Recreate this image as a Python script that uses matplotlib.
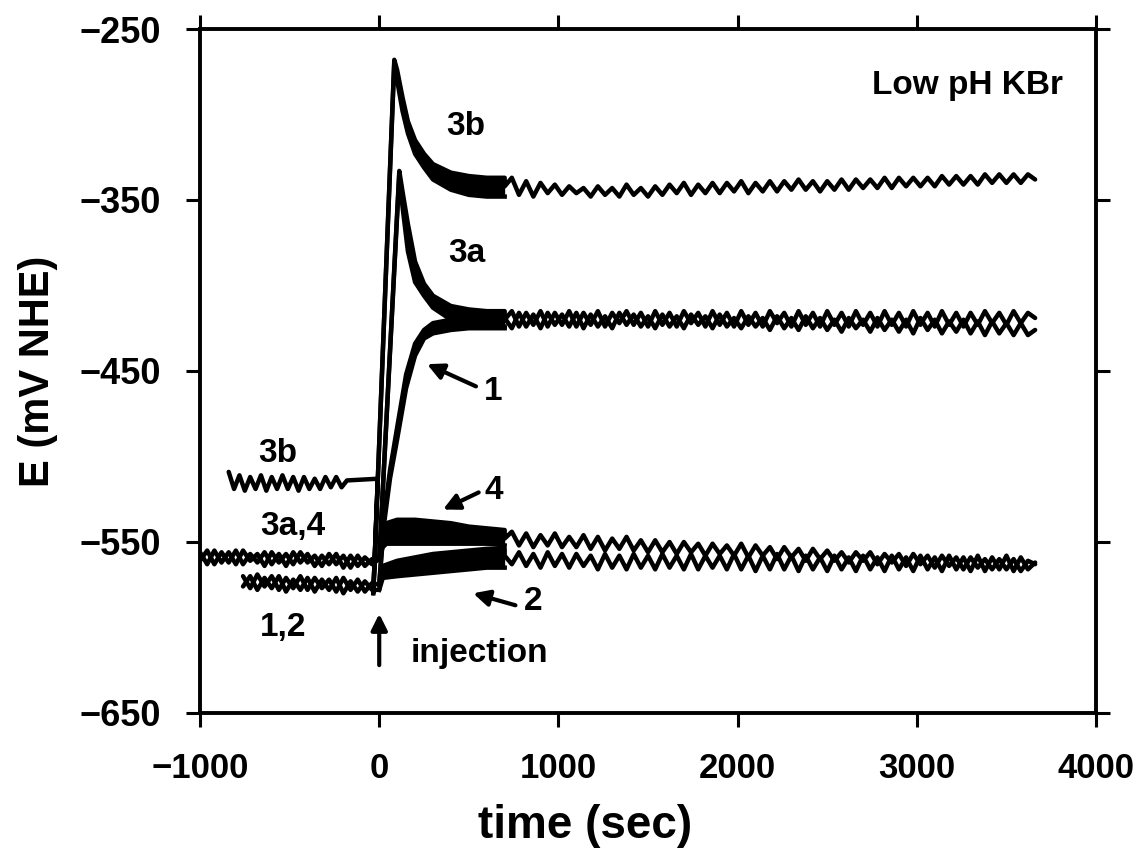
import numpy as np
import matplotlib
matplotlib.use("Agg")
import matplotlib.pyplot as plt

plt.rcParams['font.family'] = ['Liberation Sans', 'DejaVu Sans']
plt.rcParams['font.weight'] = 'bold'

# sample times (sec)
t_pre_a = np.arange(-1000, -39, 40)   # curves 3a, 4 before injection
t_pre_b = np.arange(-760, -39, 40)    # curves 1, 2 before injection
t_pre_3b = np.arange(-840, -179, 30)  # curve 3b before injection
t_post = np.arange(700, 3661, 40)     # all curves after the transient

# ---- before injection (mV NHE)
e3a_pre = [-556, -563, -555, -562, -556, -563, -555, -561, -557, -564,
           -556, -562, -557, -563, -556, -562, -558, -564, -557, -563,
           -558, -565, -558, -564, -560]
e4_pre = [-561, -555, -563, -556, -562, -555, -563, -557, -562, -556,
          -563, -557, -564, -556, -562, -557, -564, -558, -563, -557,
          -565, -558, -564, -559, -563]
e1_pre = [-570, -577, -569, -576, -570, -578, -571, -577, -570, -578,
          -571, -577, -572, -579, -571, -578, -572, -579, -574]
e2_pre = [-576, -570, -578, -571, -577, -570, -579, -572, -578, -571,
          -579, -572, -578, -571, -580, -573, -579, -573, -578]
e3b_pre = [-509, -519, -511, -520, -512, -519, -511, -520, -512, -519,
           -511, -519, -512, -520, -512, -519, -513, -519, -512, -518,
           -512, -518, -514]
t3b_link = [-8, -33]
e3b_link = [-513, -580]

# ---- transient after injection: upper / lower edge of the trace band
t3b_early = [-33, 84, 100, 130, 160, 200, 250, 300, 400, 500, 600, 700]
e3b_hi = [-580, -268, -274, -290, -304, -315, -323, -329, -334, -336, -337, -337]
e3b_lo = [-580, -270, -280, -298, -311, -323, -331, -338, -344, -347, -348, -348]

t3a_early = [0, 112, 130, 160, 200, 250, 300, 400, 500, 600, 700]
e3a_hi = [-560, -333, -345, -364, -386, -399, -406, -412, -414, -415, -415]
e3a_lo = [-560, -335, -354, -380, -398, -406, -413, -420, -423, -424, -424]

t1_early = [0, 10, 25, 60, 100, 150, 200, 250, 300, 400, 500, 600, 700]
e1_hi = [-575, -560, -537, -508, -483, -452, -434, -426, -422, -420, -418, -418, -418]
e1_lo = [-575, -562, -541, -513, -490, -460, -441, -431, -428, -426, -425, -425, -425]

t4_early = [0, 20, 40, 100, 200, 300, 400, 500, 600, 700]
e4_hi = [-560, -548, -539, -537, -537, -538, -539, -541, -542, -543]
e4_lo = [-560, -553, -551, -551, -551, -551, -551, -551, -551, -552]

t2_early = [0, 20, 100, 200, 300, 400, 500, 600, 700]
e2_hi = [-578, -564, -561, -559, -557, -556, -555, -554, -554]
e2_lo = [-578, -571, -570, -569, -568, -567, -566, -565, -565]

# ---- long-time traces
e3b_post = [-342, -337, -347, -339, -348, -340, -346, -341, -347, -342,
            -346, -343, -348, -342, -347, -343, -348, -341, -347, -343,
            -348, -342, -347, -341, -346, -340, -347, -341, -346, -340,
            -346, -340, -345, -339, -346, -340, -345, -339, -345, -339,
            -344, -338, -344, -339, -345, -339, -344, -338, -344, -338,
            -343, -338, -343, -337, -343, -337, -342, -337, -342, -337,
            -342, -336, -341, -336, -341, -336, -341, -335, -340, -335,
            -340, -335, -340, -335, -338]
e3a_post = [-419, -425, -416, -424, -417, -425, -416, -423, -417, -424,
            -416, -425, -417, -424, -418, -425, -416, -423, -417, -424,
            -418, -425, -417, -424, -418, -425, -417, -423, -418, -425,
            -417, -424, -419, -425, -418, -424, -419, -426, -418, -425,
            -419, -426, -418, -425, -419, -426, -420, -427, -419, -425,
            -420, -427, -419, -426, -420, -427, -420, -428, -419, -426,
            -420, -428, -421, -427, -420, -428, -421, -429, -421, -428,
            -422, -429, -422, -429, -426]
e1_post = [-420, -415, -424, -416, -423, -415, -424, -416, -423, -415,
           -424, -416, -423, -415, -424, -416, -422, -415, -423, -416,
           -424, -415, -423, -416, -424, -415, -422, -416, -424, -415,
           -423, -416, -424, -415, -423, -416, -424, -415, -422, -416,
           -424, -415, -423, -416, -424, -415, -423, -416, -424, -415,
           -423, -416, -424, -415, -423, -416, -424, -415, -423, -416,
           -424, -415, -423, -416, -424, -416, -423, -415, -422, -416,
           -423, -415, -422, -416, -419]
e4_post = [-548, -544, -552, -545, -553, -546, -552, -545, -553, -547,
           -553, -546, -554, -547, -555, -548, -554, -547, -555, -549,
           -556, -549, -556, -550, -557, -550, -556, -551, -558, -551,
           -557, -552, -558, -551, -559, -552, -558, -553, -560, -553,
           -559, -554, -561, -554, -560, -555, -561, -556, -562, -556,
           -561, -556, -563, -557, -562, -557, -564, -557, -563, -558,
           -565, -558, -564, -559, -566, -559, -565, -560, -566, -560,
           -566, -560, -567, -561, -563]
e2_post = [-558, -563, -556, -564, -557, -565, -556, -564, -557, -565,
           -557, -564, -558, -566, -557, -565, -558, -566, -557, -565,
           -558, -566, -557, -565, -558, -566, -557, -566, -558, -565,
           -558, -566, -557, -566, -558, -567, -558, -566, -557, -566,
           -558, -567, -558, -566, -559, -567, -558, -566, -559, -567,
           -558, -566, -559, -567, -558, -566, -559, -567, -558, -566,
           -559, -567, -558, -566, -559, -567, -558, -567, -559, -566,
           -558, -567, -559, -566, -562]

curves = [
    (t_pre_3b, e3b_pre, t3b_link, e3b_link, t3b_early, e3b_hi, e3b_lo, e3b_post),
    (t_pre_a, e3a_pre, [], [], t3a_early, e3a_hi, e3a_lo, e3a_post),
    (t_pre_b, e1_pre, [], [], t1_early, e1_hi, e1_lo, e1_post),
    (t_pre_a, e4_pre, [], [], t4_early, e4_hi, e4_lo, e4_post),
    (t_pre_b, e2_pre, [], [], t2_early, e2_hi, e2_lo, e2_post),
]

fig = plt.figure(figsize=(11.41, 8.58), dpi=100)
ax = fig.add_axes([0.1753, 0.169, 0.7853, 0.7972])

for tp, ep, tl, el, te, hi, lo, epost in curves:
    tt = np.concatenate([tp, tl, te, t_post])
    ee = np.concatenate([ep, el, hi, epost])
    ax.plot(tt, ee, color='black', lw=3.2, solid_joinstyle='round',
            solid_capstyle='round')
    ax.plot(te, lo, color='black', lw=3.2, solid_joinstyle='round')
    ax.fill_between(te, lo, hi, color='black', lw=0)

ax.set_xlim(-1000, 4000)
ax.set_ylim(-650, -250)
ax.set_xticks([-1000, 0, 1000, 2000, 3000, 4000])
ax.set_yticks([-650, -550, -450, -350, -250])

for s in ax.spines.values():
    s.set_linewidth(2.8)
ax.tick_params(direction='out', length=10, width=2.2, top=True, right=True,
               pad=18)
ax.tick_params(axis='x', labelsize=25)
ax.tick_params(axis='y', labelsize=26)
for lab in ax.get_xticklabels() + ax.get_yticklabels():
    lab.set_fontweight('bold')

ax.set_xlabel('time (sec)', fontsize=33, fontweight='heavy')
ax.xaxis.set_label_coords(0.43, -0.165)
ax.xaxis.label.set_va('center')
ax.set_ylabel('E (mV NHE)', fontsize=30, fontweight='bold')
ax.yaxis.set_label_coords(-0.181, 0.5)
ax.yaxis.label.set_va('center')

tk = dict(fontsize=24, fontweight='bold', ha='center', va='center')
ax.text(485, -307, '3b', **tk)
ax.text(491, -381, '3a', **tk)
ax.text(636, -462, '1', **tk)
ax.text(640, -520, '4', **tk)
ax.text(859, -585, '2', **tk)
ax.text(-569, -498, '3b', **tk)
ax.text(-485, -541, '3a,4', **tk)
ax.text(-536, -600, '1,2', **tk)
ax.text(562, -615, 'injection', **tk)
ax.text(3817, -283, 'Low pH KBr', fontsize=24, fontweight='bold',
        ha='right', va='center')

ap = dict(arrowstyle='-|>', lw=3, color='black', mutation_scale=24,
          shrinkA=0, shrinkB=0)
ax.annotate('', xy=(267, -446), xytext=(540, -459), arrowprops=ap)
ax.annotate('', xy=(356, -531), xytext=(555, -521), arrowprops=ap)
ax.annotate('', xy=(524, -580), xytext=(760, -587), arrowprops=ap)
ax.annotate('', xy=(0, -592), xytext=(0, -622), arrowprops=ap)

fig.savefig('out.png', dpi=100)
